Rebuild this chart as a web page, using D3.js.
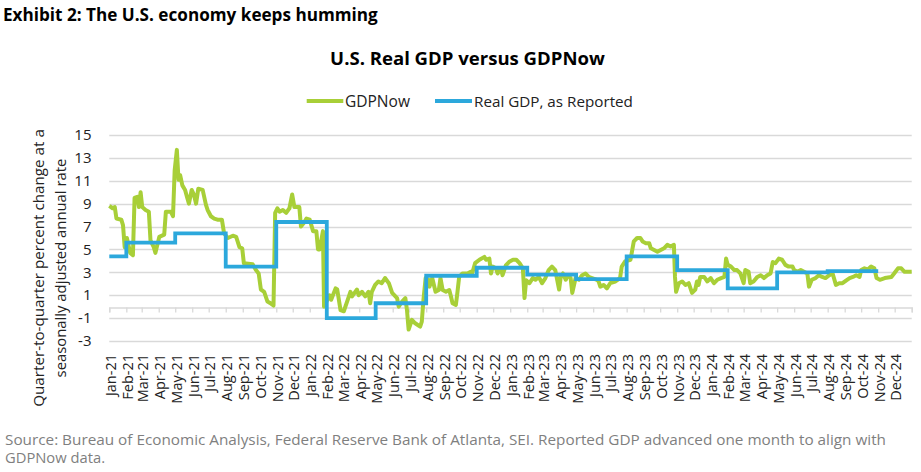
<!DOCTYPE html>
<html><head><meta charset="utf-8">
<script src="https://cdn.jsdelivr.net/npm/d3@7"></script>
<style>body{margin:0;background:#fff}svg{display:block}text{font-family:"Open Sans",sans-serif}</style>
</head><body><svg id="c" width="921" height="472"></svg>
<script>
// ---------- DATA ----------
const nowDates = ["2021-01-01","2021-01-07","2021-01-11","2021-01-14","2021-01-23","2021-01-26","2021-01-29","2021-02-02","2021-02-08","2021-02-13","2021-02-16","2021-02-21","2021-02-24","2021-02-27","2021-03-02","2021-03-08","2021-03-14","2021-03-17","2021-03-23","2021-03-26","2021-04-02","2021-04-11","2021-04-14","2021-04-23","2021-04-27","2021-04-30","2021-05-04","2021-05-07","2021-05-10","2021-05-14","2021-05-19","2021-05-23","2021-05-26","2021-05-31","2021-06-04","2021-06-08","2021-06-12","2021-06-20","2021-06-26","2021-06-29","2021-07-05","2021-07-11","2021-07-17","2021-07-25","2021-07-29","2021-08-05","2021-08-14","2021-08-20","2021-08-26","2021-08-31","2021-09-03","2021-09-19","2021-09-25","2021-09-30","2021-10-04","2021-10-10","2021-10-16","2021-10-23","2021-10-27","2021-10-30","2021-11-03","2021-11-07","2021-11-13","2021-11-19","2021-11-25","2021-11-30","2021-12-04","2021-12-13","2021-12-16","2021-12-21","2021-12-26","2022-01-01","2022-01-07","2022-01-13","2022-01-16","2022-01-19","2022-01-25","2022-01-27","2022-02-06","2022-02-09","2022-02-17","2022-02-20","2022-02-26","2022-03-04","2022-03-10","2022-03-16","2022-03-19","2022-03-28","2022-03-31","2022-04-06","2022-04-12","2022-04-18","2022-04-21","2022-04-24","2022-04-30","2022-05-06","2022-05-12","2022-05-18","2022-05-25","2022-05-31","2022-06-03","2022-06-09","2022-06-12","2022-06-18","2022-06-24","2022-06-27","2022-06-30","2022-07-06","2022-07-12","2022-07-21","2022-07-24","2022-07-27","2022-07-31","2022-08-05","2022-08-07","2022-08-12","2022-08-18","2022-08-24","2022-08-27","2022-08-31","2022-09-06","2022-09-12","2022-09-15","2022-09-18","2022-09-24","2022-09-27","2022-09-30","2022-10-06","2022-10-15","2022-10-21","2022-10-24","2022-10-29","2022-11-06","2022-11-15","2022-11-18","2022-11-24","2022-11-27","2022-11-30","2022-12-06","2022-12-09","2022-12-15","2022-12-18","2022-12-24","2022-12-31","2023-01-06","2023-01-12","2023-01-18","2023-01-24","2023-01-27","2023-01-30","2023-02-05","2023-02-11","2023-02-16","2023-02-22","2023-02-28","2023-03-06","2023-03-12","2023-03-18","2023-03-24","2023-03-31","2023-04-03","2023-04-07","2023-04-12","2023-04-16","2023-04-21","2023-04-24","2023-04-30","2023-05-06","2023-05-12","2023-05-18","2023-05-24","2023-05-30","2023-06-08","2023-06-11","2023-06-14","2023-06-20","2023-06-26","2023-07-02","2023-07-11","2023-07-20","2023-07-23","2023-07-29","2023-08-08","2023-08-14","2023-08-20","2023-08-26","2023-08-30","2023-09-05","2023-09-11","2023-09-14","2023-09-20","2023-09-26","2023-10-02","2023-10-08","2023-10-14","2023-10-20","2023-10-26","2023-10-28","2023-10-30","2023-11-04","2023-11-10","2023-11-16","2023-11-22","2023-11-28","2023-12-04","2023-12-07","2023-12-10","2023-12-13","2023-12-20","2023-12-26","2024-01-01","2024-01-07","2024-01-13","2024-01-20","2024-01-26","2024-01-29","2024-02-01","2024-02-07","2024-02-13","2024-02-18","2024-02-24","2024-03-01","2024-03-04","2024-03-10","2024-03-13","2024-03-19","2024-03-26","2024-04-01","2024-04-07","2024-04-13","2024-04-19","2024-04-23","2024-04-28","2024-05-04","2024-05-10","2024-05-16","2024-05-22","2024-05-29","2024-06-01","2024-06-07","2024-06-13","2024-06-19","2024-06-25","2024-06-28","2024-07-03","2024-07-10","2024-07-16","2024-07-22","2024-07-28","2024-08-04","2024-08-10","2024-08-16","2024-08-22","2024-08-28","2024-09-04","2024-09-10","2024-09-16","2024-09-22","2024-09-28","2024-10-01","2024-10-07","2024-10-13","2024-10-19","2024-10-25","2024-10-29","2024-11-04","2024-11-13","2024-11-25","2024-11-30","2024-12-07","2024-12-13","2024-12-19","2024-12-28","2025-01-01"];
const nowValues = [8.8,8.6,8.7,7.7,7.6,7.1,5.2,6.0,4.7,4.5,9.5,9.6,8.7,10.0,8.7,8.45,8.3,5.8,5.2,4.7,6.1,6.3,8.3,8.3,7.9,11.9,13.7,11.1,11.5,10.6,10.2,9.5,9.0,10.2,9.8,9.0,10.3,10.2,8.9,8.45,7.9,7.7,7.6,7.6,6.4,6.0,6.2,6.1,5.2,5.1,3.8,3.7,3.2,2.9,1.5,1.3,0.45,0.25,0.1,8.2,8.6,8.3,8.45,8.2,8.6,9.8,8.7,8.7,7.0,7.3,7.7,7.6,6.6,6.6,5.0,5.0,6.6,0.0,1.0,0.6,1.6,1.5,-0.3,-0.4,0.45,1.3,0.9,1.5,1.0,1.3,0.9,1.3,0.3,1.3,1.9,2.2,2.05,2.5,2.05,1.2,1.05,0.75,0.0,0.45,0.75,-0.3,-2.0,-1.15,-1.45,-1.75,-1.3,0.6,2.5,2.35,1.75,2.5,1.3,1.45,2.5,1.45,1.3,1.45,0.9,0.3,0.15,1.3,2.6,2.9,2.9,3.05,2.95,3.8,4.1,4.35,4.1,4.2,2.9,3.5,3.35,2.9,3.35,2.75,3.6,3.95,4.1,4.1,3.8,3.35,0.75,2.3,2.05,2.5,2.35,2.6,2.05,2.5,3.2,3.5,3.2,1.5,2.6,2.9,2.35,2.75,2.5,1.2,2.5,2.35,2.75,2.9,2.6,2.5,2.35,2.2,1.75,1.9,1.6,2.05,2.2,2.5,3.5,3.95,4.1,5.7,6.0,6.0,5.7,5.55,5.55,5.1,4.95,4.8,4.95,5.1,5.4,5.25,5.4,2.6,1.3,2.05,2.2,1.9,2.05,1.2,1.5,2.2,1.9,2.6,2.6,2.2,2.5,2.05,2.35,2.5,2.6,4.2,3.65,3.5,3.2,3.2,2.9,2.05,3.2,3.05,2.05,2.2,2.6,2.75,2.5,2.75,2.9,3.9,3.8,4.2,4.1,3.65,3.5,3.5,3.2,3.05,3.2,3.05,2.9,1.75,2.35,2.5,2.75,2.6,2.5,2.75,2.9,1.9,2.05,2.05,2.3,2.5,2.6,2.75,2.6,3.2,3.35,3.25,3.5,3.35,2.5,2.35,2.5,2.6,2.9,3.35,3.35,3.05,3.05,3.05];

const gdpDates = ["2021-01-01","2021-02-01","2021-05-01","2021-08-01","2021-11-01","2022-02-01","2022-05-01","2022-08-01","2022-11-01","2023-02-01","2023-05-01","2023-08-01","2023-11-01","2024-02-01","2024-05-01","2024-08-01","2024-11-01"];
const gdpValues = [4.4,5.6,6.4,3.5,7.4,-1.0,0.3,2.7,3.4,2.8,2.4,4.4,3.2,1.6,3.0,3.1,3.1];

const yTicks = [15,13,11,9,7,5,3,1,-1,-3];
const axisStart = "2021-01-01", axisEnd = "2025-01-01";

const titleText = "Exhibit 2: The U.S. economy keeps humming";
const chartTitle = "U.S. Real GDP versus GDPNow";
const seriesNames = ["GDPNow","Real GDP, as Reported"];
const yTitle = ["Quarter-to-quarter percent change at a","seasonally adjusted annual rate"];
const sourceLines = ["Source: Bureau of Economic Analysis, Federal Reserve Bank of Atlanta, SEI. Reported GDP advanced one month to align with","GDPNow data."];

// ---------- CHART ----------
const GREEN = "#a8cf38", BLUE = "#2ca8dc", GRID = "#d9d9d9";
const parse = d3.timeParse("%Y-%m-%d");
const svg = d3.select("#c");
svg.append("rect").attr("width",921).attr("height",472).attr("fill","#fff");

function fit(sel, w){ const l = sel.node().getComputedTextLength(); const fs = parseFloat(sel.attr("font-size")); sel.attr("font-size", fs*w/l); return sel; }

const x = d3.scaleTime().domain([parse(axisStart), parse(axisEnd)]).range([109.3, 911.7]);
const y = d3.scaleLinear().domain([-3, 15]).range([341, 135]);

// titles
fit(svg.append("text").attr("x",3).attr("y",21).attr("font-size",16).attr("font-weight",700).attr("fill","#000").text(titleText), 375);
fit(svg.append("text").attr("x",467.5).attr("y",65).attr("text-anchor","middle").attr("font-size",18).attr("font-weight",700).attr("fill","#000").text(chartTitle), 275);

// legend
const leg = [{c:GREEN,x1:306.7,x2:343.3,tx:345,w:65},{c:BLUE,x1:435,x2:472,tx:474,w:159}];
leg.forEach((l,i)=>{
  svg.append("line").attr("x1",l.x1).attr("x2",l.x2).attr("y1",101).attr("y2",101).attr("stroke",l.c).attr("stroke-width",4);
  fit(svg.append("text").attr("x",l.tx).attr("y",106.5).attr("font-size",15).attr("fill","#222").text(seriesNames[i]), l.w);
});

// gridlines
svg.append("g").selectAll("line").data(yTicks).join("line")
  .attr("x1",x.range()[0]).attr("x2",x.range()[1])
  .attr("y1",d=>Math.round(y(d))+0.5).attr("y2",d=>Math.round(y(d))+0.5)
  .attr("stroke",GRID).attr("stroke-width",1.3);

// y tick labels
svg.append("g").selectAll("text").data(yTicks).join("text")
  .attr("x",91.5).attr("y",d=>y(d)).attr("dy","0.35em").attr("text-anchor","end")
  .attr("font-size",15).attr("fill","#222").text(d=>d);

// x axis at zero with month ticks
const months = d3.timeMonth.range(parse(axisStart), d3.timeDay.offset(parse(axisEnd),1));
const zeroY = Math.round(y(0))+0.5;
const ax = svg.append("g").attr("transform",`translate(0,${zeroY})`);
ax.call(d3.axisBottom(x).tickValues(months).tickSize(5).tickFormat(""));
ax.select(".domain").attr("stroke",GRID).attr("stroke-width",1.3);
ax.selectAll(".tick line").attr("stroke",GRID).attr("stroke-width",1.3);

// x labels
const fmt = d3.timeFormat("%b-%y");
svg.append("g").selectAll("text").data(months.slice(0,48)).join("text")
  .attr("transform",d=>`translate(${x(d)+1.5},354) rotate(-90)`)
  .attr("dy","0.35em").attr("text-anchor","end").attr("font-size",14.5).attr("fill","#222")
  .text(d=>fmt(d));

// y title
const yt = svg.append("g").attr("transform","translate(0,268)");
[39,61].forEach((cx,i)=>{
  fit(yt.append("text").attr("transform",`translate(${cx},0) rotate(-90)`).attr("dy","0.35em")
    .attr("text-anchor","middle").attr("font-size",15).attr("fill","#222").text(yTitle[i]), i===0?278:219);
});

// series
const nowData = nowDates.map((d,i)=>({d:parse(d), v:nowValues[i]}));
const gdpData = gdpDates.map((d,i)=>({d:parse(d), v:gdpValues[i]}));
svg.append("path").datum(nowData)
  .attr("d", d3.line().x(p=>x(p.d)).y(p=>y(p.v)))
  .attr("fill","none").attr("stroke",GREEN).attr("stroke-width",4).attr("stroke-linejoin","round");
svg.append("path").datum(gdpData)
  .attr("d", d3.line().curve(d3.curveStepAfter).x(p=>x(p.d)).y(p=>y(p.v)))
  .attr("fill","none").attr("stroke",BLUE).attr("stroke-width",3.8);

// source
sourceLines.forEach((s,i)=>{
  svg.append("text").attr("x",5).attr("y",445+i*17.5).attr("font-size",14).attr("fill","#7f7f7f")
    .attr("textLength", i===0?881:100).attr("lengthAdjust","spacingAndGlyphs").text(s);
});
</script></body></html>
